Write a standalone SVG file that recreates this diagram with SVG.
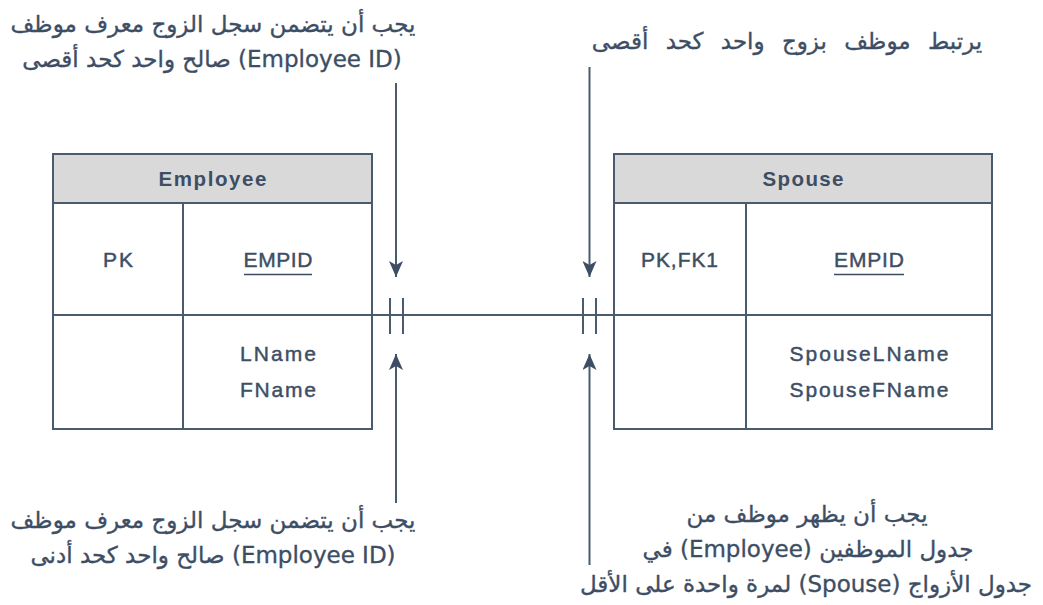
<svg xmlns="http://www.w3.org/2000/svg" width="1043" height="605" viewBox="0 0 1043 605">
<style>
.frame{fill:#ffffff;stroke:#4a5a6f;stroke-width:2}
.hdr{fill:#d9d9d9;stroke:#4a5a6f;stroke-width:2}
.div{stroke:#4a5a6f;stroke-width:2;fill:none}
.t{font-family:"Liberation Sans",Arial,sans-serif;font-size:21px;fill:#3d4e64;text-anchor:middle;stroke:#3d4e64;stroke-width:0.45}
.b{font-weight:bold;font-size:20.5px;stroke-width:0}
.ul{stroke:#3d4e64;stroke-width:1.6}
.ar{font-family:"DejaVu Sans","Noto Sans",sans-serif;font-size:23px;fill:#3d4e64;text-anchor:middle;direction:rtl;unicode-bidi:embed;stroke:#3d4e64;stroke-width:0.35}
.conn{stroke:#4a5a6f;stroke-width:2;fill:none}
.arr{fill:#3d4e64}
</style>
<defs>
<marker id="ah" markerUnits="userSpaceOnUse" markerWidth="16" markerHeight="14" viewBox="0 0 16 14" refX="16" refY="7" orient="auto">
<path d="M0,0 L16,7 L0,14 L4,7 Z" class="arr"/>
</marker>
</defs>
<rect width="1043" height="605" fill="#ffffff"/>

<g id="employee">
<rect class="frame" x="53" y="154" width="319" height="275"/>
<rect class="hdr" x="53" y="154" width="319" height="49"/>
<line class="div" x1="183" y1="203" x2="183" y2="429"/>
<line class="div" x1="53" y1="315" x2="372" y2="315"/>
<text class="t b" x="212.5" y="186" textLength="108" lengthAdjust="spacing">Employee</text>
<text class="t" x="118" y="267" textLength="30" lengthAdjust="spacing">PK</text>
<text class="t" x="278" y="267" textLength="69" lengthAdjust="spacing">EMPID</text>
<line class="ul" x1="244" y1="274.5" x2="312" y2="274.5"/>
<text class="t" x="278" y="361" textLength="76" lengthAdjust="spacing">LName</text>
<text class="t" x="278" y="397" textLength="76" lengthAdjust="spacing">FName</text>
</g>

<g id="spouse">
<rect class="frame" x="614" y="154" width="378" height="275"/>
<rect class="hdr" x="614" y="154" width="378" height="49"/>
<line class="div" x1="746" y1="203" x2="746" y2="429"/>
<line class="div" x1="614" y1="315" x2="992" y2="315"/>
<text class="t b" x="803" y="186" textLength="81" lengthAdjust="spacing">Spouse</text>
<text class="t" x="679.5" y="267" textLength="77" lengthAdjust="spacing">PK,FK1</text>
<text class="t" x="869" y="267" textLength="70" lengthAdjust="spacing">EMPID</text>
<line class="ul" x1="834" y1="274.5" x2="904" y2="274.5"/>
<text class="t" x="869" y="361" textLength="159" lengthAdjust="spacing">SpouseLName</text>
<text class="t" x="869" y="397" textLength="159" lengthAdjust="spacing">SpouseFName</text>
</g>

<g id="connectors">
<line class="conn" x1="372" y1="315" x2="614" y2="315"/>
<line class="conn" x1="390" y1="298" x2="390" y2="334"/>
<line class="conn" x1="403" y1="298" x2="403" y2="334"/>
<line class="conn" x1="583" y1="298" x2="583" y2="334"/>
<line class="conn" x1="596" y1="298" x2="596" y2="334"/>
<line class="conn" x1="396" y1="83" x2="396" y2="277" marker-end="url(#ah)"/>
<line class="conn" x1="589.5" y1="67" x2="589.5" y2="277" marker-end="url(#ah)"/>
<line class="conn" x1="396" y1="503" x2="396" y2="354" marker-end="url(#ah)"/>
<line class="conn" x1="589.5" y1="565" x2="589.5" y2="354" marker-end="url(#ah)"/>
</g>

<g id="note-top-left">
<text class="ar" x="213" y="32">يجب أن يتضمن سجل الزوج معرف موظف</text>
<text class="ar" x="212" y="67">(Employee ID) صالح واحد كحد أقصى</text>
</g>
<g id="note-top-right">
<text class="ar" x="787" y="49" style="word-spacing:10px">يرتبط موظف بزوج واحد كحد أقصى</text>
</g>
<g id="note-bottom-left">
<text class="ar" x="213" y="528">يجب أن يتضمن سجل الزوج معرف موظف</text>
<text class="ar" x="213" y="563">(Employee ID) صالح واحد كحد أدنى</text>
</g>
<g id="note-bottom-right">
<text class="ar" x="807" y="522">يجب أن يظهر موظف من</text>
<text class="ar" x="808" y="557">جدول الموظفين (Employee) في</text>
<text class="ar" x="806" y="592">جدول الأزواج (Spouse) لمرة واحدة على الأقل</text>
</g>
</svg>
